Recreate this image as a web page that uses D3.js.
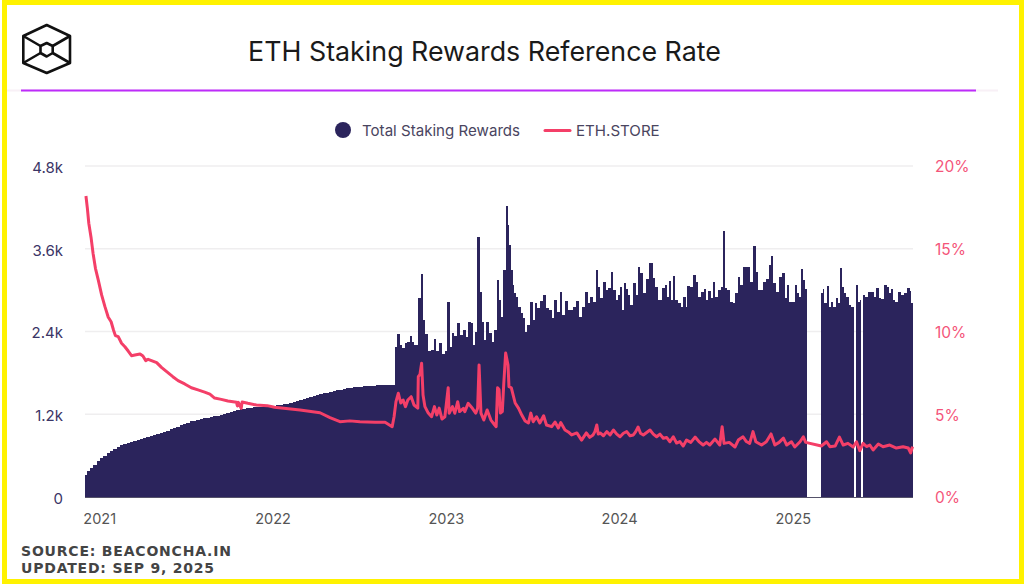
<!DOCTYPE html>
<html lang="en">
<head>
<meta charset="UTF-8">
<title>ETH Staking Rewards Reference Rate</title>
<script src="https://d3js.org/d3.v7.min.js"></script>
<style>
    html, body { margin: 0; padding: 0; background: #fff; }
    svg { display: block; font-family: Inter, "Noto Sans", sans-serif; }
    .grid { stroke: #efeeef; stroke-width: 1.5px; }
    .tick line { display: none; }
    .domain { display: none; }
</style>
</head>
<body>
<svg id="canvas" width="1026" height="587"></svg>
<script>
// all days are counted from the first day of the chart
let firstDay = new Date(2020, 10, 30);
let lastDay = 1744;

// before the merge, one reading a week
let earlyRewards = [320,375,425,470,520,565,600,635,665,700,730,755,770,785,800,810,825,835,850,865,880,895,915,930,945,960,980,1000,1020,1040,1060,1075,1095,1105,1115,1125,1140,1150,1160,1170,1180,1195,1210,1220,1235,1245,1255,1270,1280,1290,1295,1300,1305,1305,1310,1315,1320,1325,1330,1340,1345,1355,1365,1375,1385,1400,1415,1430,1445,1465,1480,1495,1505,1515,1525,1535,1545,1555,1565,1575,1585,1590,1595,1600,1605,1610,1612,1615,1618,1620,1622,1624,1620,1620];
let earlyRewardDays = earlyRewards.map((d, i) => i * 7);

// after the merge, read off the picture peak by peak (null = no data)
let lateRewardDays = [655,661,665.5,670,676,681,686.6,691,697,704,710,714,720,725,732,738,742,748,755,760,766,770,774,781,788,792,800,805,809,815,819,823,830,833,838,842,849,853,860,864,870,874,879,883,889,892,895,899,902,906,910,915,920,925,929,
    935,941,946,950,956,962,969,974,981,986,991,997,1002,1007,1014,1020,1025,1031,1037,1043,1050,1056,1061,1067,1073,1078,1082,1088,1094,1099,1104,1110,1115,1120,1125,1130,1134,1137,1141,1146,1151,1158,1163,1167,1172,1178,1185,1192,1199,1204,1211,
    1219,1224,1228,1232,1236,1241,1246,1252,1257,1263,1267,1270,1278,1284,1290,1294,1300,1306,1311,1315,1320,1325,1330,1336,1342,1346,1350,1356,1361,1367,1373,1377,1382,1388,1394,1399,1404,1411,1415,1419,1425,1431,1437,1443,1447,1452,1458,1465,1471,1476,1480,1486,1492,
    1497,1501,1506,1511,1515,1518,1523,1548,1552,1555,1560,1564,1569,1574,1578,1585,1589,1592,1596,1601,1606,1611,1617,1622,1625,1630,1634,1637,1641,1646,1653,1658,1664,1669,1674,1679,1686,1692,1695,1699,1704,1709,1716,1722,1729,1735,1739,1742];
let lateRewards = [2180,2365,2205,2160,2230,2250,2335,2250,2205,2890,3230,2565,2365,2115,2125,2290,2115,2230,2075,2110,2825,2180,2375,2335,2525,2350,2420,2320,2540,2525,2205,2390,3770,2975,2540,2280,2540,2375,2250,2420,3145,2860,2610,3290,4220,3945,3650,3290,3075,2960,2900,2760,2665,2600,2390,
    2495,2825,2565,2810,2740,2840,2930,2740,2710,2595,2855,2680,2970,2640,2840,2710,2710,2760,2840,2610,2760,2970,2810,2900,2825,3290,3050,2885,3120,3000,3030,3265,3000,2855,2930,3045,2710,3100,3015,2930,2785,3100,2930,3335,3245,2960,3160,3390,3175,3050,2855,
    3030,3075,2900,3130,2855,3205,2855,2810,2760,2900,2760,3060,3045,3220,3120,2900,2970,3015,2855,2985,2885,3120,2900,3000,3045,3855,3030,3000,2825,2810,2960,3190,3075,3335,3335,3335,3120,3640,3265,3000,3000,3120,3160,3365,3495,3100,2970,3190,3245,2885,3075,2825,2825,
    3075,2960,2900,3305,3145,3015,null,null,2960,3015,2810,3060,2760,2825,2760,2885,2810,3320,3045,2960,2900,2785,2760,null,3075,2825,2855,null,2930,2900,2970,2970,2900,3030,2885,2870,3075,3045,2960,3015,2855,2825,2970,2930,2960,3030,2985,2810];

let rewardDays = earlyRewardDays.concat(lateRewardDays);
let rewards = earlyRewards.concat(lateRewards);

// ETH.STORE rate in percent
let storeDays = [2,5,8,13,17,22,28,35,42,49,55,60,64,70,77,84,91,98,105,116,122,128,133,140,151,161,172,185,196,210,224,238,252,263,273,287,301,319,321,323,329,331,343,361,384,399,453,495,516,537,558,579,611,632,
    647,651,655,660,665,670,675,680,687,693,701,702,705.5,709,712,716,723,730,736,741,746,752,758,765,767,774,779,785,789,797,800,807,816,823,827,830,834,840,847,855,863,866,869,872,875,879,882,886,891,893,898,906,913,920,927,934,939,944,951,958,966,972,983,990,997,1002,1011,1018,1025,1036,1046,
    1056,1063,1070,1074,1078,1081,1085,1092,1099,1106,1113,1120,1127,1134,1141,1148,1155,1160,1165,1170,1176,1183,1190,1197,1204,1211,1218,1225,1232,1239,1246,1253,1260,1267,1276,1285,1293,1302,1309,1316,1327,1337,1342,1346,1357,1369,1376,1386,1393,1400,1407,1413,1425,1435,1445,1453,1462,1471,1478,1488,1495,1506,1513,1518,1551,1562,1569,1580,1589,1597,1607,1618,1625,1632,1639,1646,1653,1660,1671,1681,1695,1709,1723,1734,1739,1743];
let storeRates = [18.19,17.44,16.54,15.63,14.72,13.82,13.11,12.21,11.5,10.86,10.59,10.09,9.75,9.69,9.29,9.08,8.82,8.54,8.58,8.64,8.52,8.24,8.32,8.24,8.12,7.83,7.57,7.27,7.03,6.83,6.6,6.47,6.34,6.22,5.98,5.9,5.8,5.72,5.5,5.72,5.36,5.74,5.66,5.56,5.52,5.42,5.26,5.09,4.8,4.55,4.6,4.55,4.52,4.52,
    4.25,4.85,5.76,6.27,5.68,5.86,5.46,5.86,6.06,5.56,5.37,7.27,7.4,8.08,6.16,5.46,5.07,4.85,5.46,4.95,5.37,4.71,4.85,6.6,5.06,5.46,5.06,5.76,5.16,5.36,5.16,5.66,5.36,5.07,5.36,7.98,5.07,4.65,5.26,4.65,4.35,4.25,6.6,6.5,5.07,5.16,6.83,8.7,7.98,6.67,6.6,5.68,5.37,4.95,4.59,4.47,5.07,4.55,4.85,4.47,4.91,4.35,4.25,4.53,4.17,4.5,4.05,3.93,3.75,3.87,3.44,
    3.87,3.6,3.75,3.95,4.35,3.8,3.87,3.7,3.95,3.75,4.05,3.8,3.64,3.85,3.95,3.7,3.75,3.95,4.23,3.85,3.75,3.9,4.05,3.8,3.64,3.8,3.55,3.6,3.34,3.64,3.26,3.35,3.08,3.44,3.3,3.62,3.35,3.14,3.3,3.14,3.5,3.14,4.25,3.24,3.3,3.02,3.44,3.64,3.35,3.24,3.95,3.34,3.14,3.34,3.81,3.14,3.3,3.56,3.14,3.34,3.02,3.34,3.64,3.3,3.08,3.34,3.04,3.08,3.62,3.14,3.24,3.02,3.34,2.8,3.24,3.05,3.14,2.84,3.2,3.04,3.14,2.96,3.04,2.96,2.66,3.04];

let yearTicks = [2021, 2022, 2023, 2024, 2025];
let rewardTicks = [0, 1200, 2400, 3600, 4800];
let rewardTickLabels = ["0", "1.2k", "2.4k", "3.6k", "4.8k"];
let rateTicks = [0, 5, 10, 15, 20];

let navy = "#2b245c";
let pink = "#f43f68";

let svg = d3.select("#canvas");

function dayToDate(day) {
    return d3.timeHour.offset(firstDay, day * 24);
}

let x = d3.scaleTime().domain([firstDay, dayToDate(lastDay)]).range([85, 913]);
let yLeft = d3.scaleLinear().domain([0, 4800]).range([497, 166]);
let yRight = d3.scaleLinear().domain([0, 20]).range([497, 166]);

// yellow frame
svg.append("rect").attr("x", 4.5).attr("y", 2.5).attr("width", 1017).attr("height", 579)
    .attr("fill", "white").attr("stroke", "#fff200").attr("stroke-width", 5);

// logo
let logo = svg.append("g").attr("fill", "none").attr("stroke", "#111").attr("stroke-width", 2.6).attr("stroke-linejoin", "round");
logo.append("path").attr("d", "M46.7 25L70 36V63L46.7 73L23.3 63V36Z");
logo.append("path").attr("d", "M46.7 43L52.7 46V53L46.7 56.5L40.5 53V46Z");
logo.append("path").attr("d", "M23.3 36L40.5 46M70 36L52.7 46M23.3 63L40.5 53M70 63L52.7 53");

// title and rule
svg.append("text").attr("x", 484.5).attr("y", 61).attr("text-anchor", "middle")
    .attr("font-size", 26.8).attr("fill", "#1a1a1a").text("ETH Staking Rewards Reference Rate");
svg.append("line").attr("x1", 7).attr("x2", 998).attr("y1", 90.5).attr("y2", 90.5)
    .attr("stroke", "#f8f0f6").attr("stroke-width", 2);
svg.append("line").attr("x1", 21).attr("x2", 976).attr("y1", 90.5).attr("y2", 90.5)
    .attr("stroke", "#bd2cfa").attr("stroke-width", 2);

// legend
svg.append("circle").attr("cx", 343).attr("cy", 130).attr("r", 8).attr("fill", navy);
svg.append("text").attr("x", 362).attr("y", 135.5).attr("font-size", 15.1).attr("fill", "#4a4560").text("Total Staking Rewards");
svg.append("line").attr("x1", 545).attr("x2", 570).attr("y1", 130.5).attr("y2", 130.5)
    .attr("stroke", pink).attr("stroke-width", 3).attr("stroke-linecap", "round");
svg.append("text").attr("x", 576).attr("y", 135.5).attr("font-size", 15.1).attr("fill", "#4a4560").text("ETH.STORE");

// gridlines
svg.append("g").selectAll("line")
    .data(rewardTicks.slice(1))
    .enter()
    .append("line")
    .attr("class", "grid")
    .attr("x1", 85).attr("x2", 913)
    .attr("y1", d => yLeft(d)).attr("y2", d => yLeft(d));

// bars run from the midpoint with the previous reading to the midpoint with the next
function barEdge(i) {
    if (i <= 0) return 0;
    if (i >= rewardDays.length) return lastDay;
    return (rewardDays[i - 1] + rewardDays[i]) / 2;
}
svg.append("g").selectAll("rect")
    .data(d3.range(rewards.length).filter(i => rewards[i] !== null))
    .enter()
    .append("rect")
    .attr("x", i => x(dayToDate(barEdge(i))))
    .attr("width", i => x(dayToDate(barEdge(i + 1))) - x(dayToDate(barEdge(i))))
    .attr("y", i => yLeft(rewards[i]))
    .attr("height", i => yLeft(0) - yLeft(rewards[i]))
    .attr("fill", navy)
    .attr("shape-rendering", "crispEdges");

// baseline
svg.append("line").attr("x1", 85).attr("x2", 913).attr("y1", 497.5).attr("y2", 497.5)
    .attr("stroke", "#55526a").attr("stroke-width", 1);

// ETH.STORE line
let line = d3.line()
    .x((d, i) => x(dayToDate(storeDays[i])))
    .y(d => yRight(d));
svg.append("path")
    .attr("d", line(storeRates))
    .attr("fill", "none")
    .attr("stroke", pink)
    .attr("stroke-width", 3)
    .attr("stroke-linejoin", "round");

// axes
let leftAxis = svg.append("g")
    .attr("transform", "translate(70,0)")
    .call(d3.axisLeft(yLeft).tickValues(rewardTicks).tickFormat((d, i) => rewardTickLabels[i]).tickSize(0).tickPadding(7));
leftAxis.selectAll("text").attr("font-family", "Inter").attr("font-size", 15).attr("fill", "#3b3566").attr("dy", "0.42em");

let rightAxis = svg.append("g")
    .attr("transform", "translate(927,0)")
    .call(d3.axisRight(yRight).tickValues(rateTicks).tickFormat(d => d + "%").tickSize(0).tickPadding(8));
rightAxis.selectAll("text").attr("font-family", "Inter").attr("font-size", 15.5).attr("fill", "#f4557a").attr("dy", "0.38em");

let bottomAxis = svg.append("g")
    .attr("transform", "translate(-1,497)")
    .call(d3.axisBottom(x).tickValues(yearTicks.map(d => new Date(d, 0, 1))).tickFormat(d3.timeFormat("%Y")).tickSize(0).tickPadding(17));
bottomAxis.selectAll("text").attr("font-family", "Inter").attr("font-size", 14.5).attr("fill", "#555");

// source note
let note = svg.append("g").attr("font-family", "DejaVu Sans").attr("font-weight", "bold").attr("font-size", 14).attr("fill", "#444").attr("letter-spacing", 0.8);
note.append("text").attr("x", 21).attr("y", 556).text("SOURCE: BEACONCHA.IN");
note.append("text").attr("x", 21).attr("y", 573).text("UPDATED: SEP 9, 2025");
</script>
</body>
</html>
